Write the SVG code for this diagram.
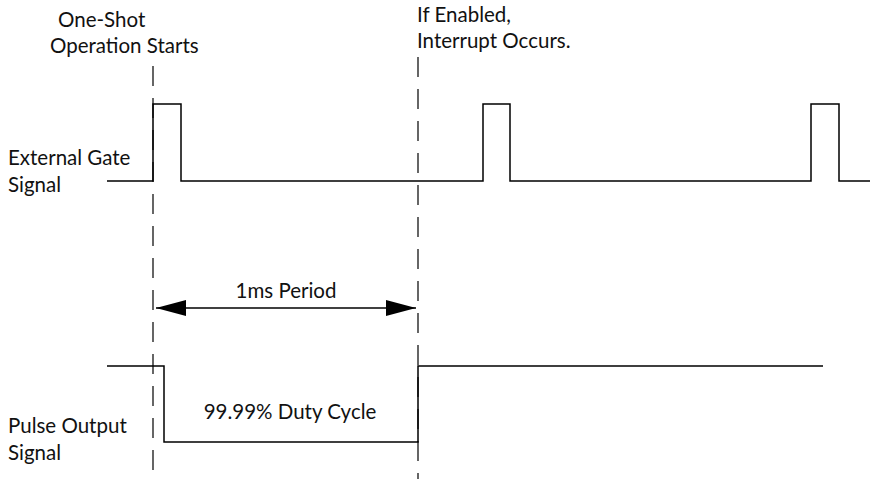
<svg xmlns="http://www.w3.org/2000/svg" width="870" height="479" viewBox="0 0 870 479">
  <style>
    text { font-family: Lato, "Liberation Sans", sans-serif; font-size: 20.5px; fill: #111; }
    .sig { fill: none; stroke: #000; stroke-width: 1.5; }
    .dash { fill: none; stroke: #000; stroke-width: 1.2; stroke-dasharray: 20 12; }
    .dim { fill: none; stroke: #000; stroke-width: 1.5; }
  </style>
  <defs>
    <marker id="ah" viewBox="0 0 30 16" refX="30" refY="8" markerWidth="30" markerHeight="16" markerUnits="userSpaceOnUse" orient="auto-start-reverse">
      <path d="M0,0 L30,8 L0,16 Z" fill="#000"/>
    </marker>
  </defs>
  <g id="labels">
    <text x="58" y="27">One-Shot</text>
    <text x="50" y="53">Operation Starts</text>
    <text x="417" y="22">If Enabled,</text>
    <text x="417" y="48">Interrupt Occurs.</text>
    <text x="8" y="165">External Gate</text>
    <text x="8" y="192">Signal</text>
    <text x="8" y="433">Pulse Output</text>
    <text x="8" y="460">Signal</text>
  </g>
  <g id="markers">
    <line class="dash" x1="153" y1="66" x2="153" y2="479"/>
    <line class="dash" x1="418" y1="57" x2="418" y2="479"/>
  </g>
  <g id="gate-signal">
    <polyline class="sig" points="107,181 153,181 153,104 181,104 181,181 483,181 483,104 510,104 510,181 811,181 811,104 839,104 839,181 870,181"/>
  </g>
  <g id="pulse-output">
    <polyline class="sig" points="107,366 164,366 164,442 418,442 418,366 823,366"/>
    <text x="290" y="419" text-anchor="middle">99.99% Duty Cycle</text>
  </g>
  <g id="connectors">
    <line class="dim" x1="156" y1="308" x2="416" y2="308" marker-start="url(#ah)" marker-end="url(#ah)"/>
    <text x="286" y="298" text-anchor="middle">1ms Period</text>
  </g>
</svg>
